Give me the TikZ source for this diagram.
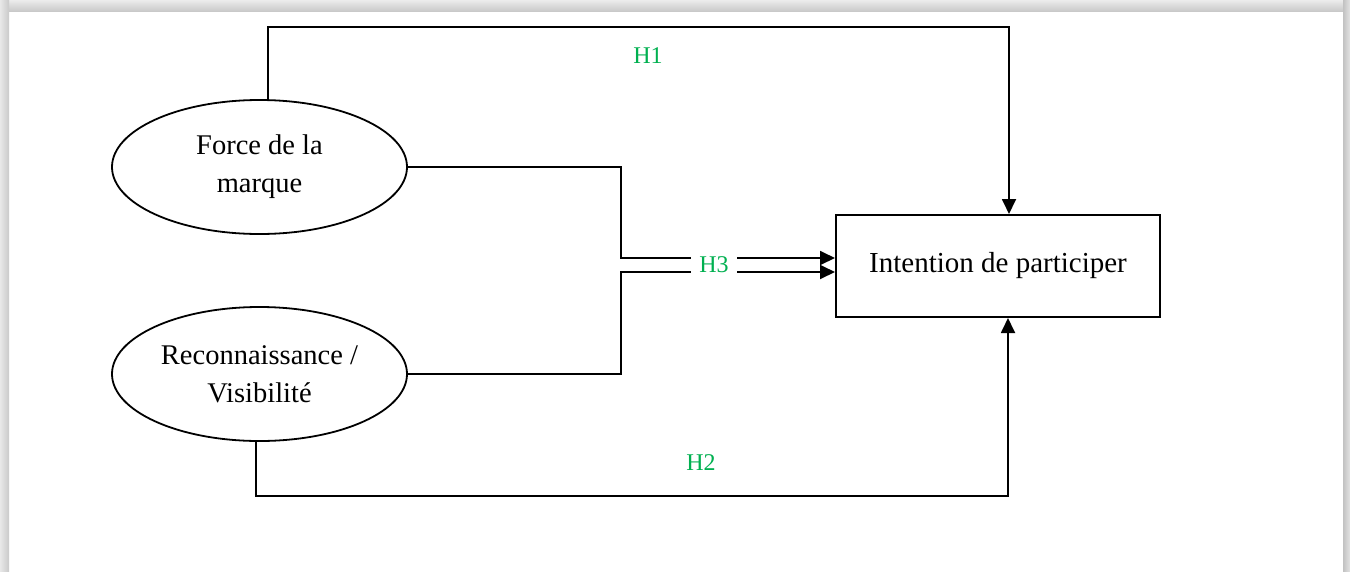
\documentclass[tikz,border=0pt]{standalone}
\usepackage{fontspec}
\setmainfont{Liberation Serif}
\usetikzlibrary{shapes.geometric,arrows.meta}
\definecolor{hgreen}{RGB}{0,176,80}
\begin{document}
\begin{tikzpicture}[x=1pt,y=-1pt,
  conn/.style={line width=1.8pt},
  arr/.style={conn,-{Triangle[length=15pt,width=14pt]}},
  oval/.style={ellipse,draw,line width=1.8pt,minimum width=295pt,minimum height=134pt,inner sep=0pt,align=center,font=\fontsize{28.5}{38}\selectfont},
  boxnode/.style={draw,line width=2pt,minimum width=324pt,minimum height=102pt,inner sep=0pt,font=\fontsize{29}{36}\selectfont},
  hlab/.style={text=hgreen,font=\fontsize{24}{28}\selectfont,inner sep=0pt}]
\useasboundingbox (0,0) rectangle (1350,571);
\fill[white] (0,0) rectangle (1350,571);
\shade[top color=gray!15,bottom color=gray!42] (0,0) rectangle (1350,11);
\shade[left color=gray!18,right color=gray!42] (0,0) rectangle (9,571);
\shade[left color=gray!48,right color=gray!22] (1343,0) rectangle (1350,571);

\node[oval] (force) at (259.5,167) {Force de la\\marque};
\node[oval] (reco) at (259.5,374) {Reconnaissance /\\Visibilité};
\node[boxnode] (intent) at (998,266) {Intention de participer};
\coordinate (j) at (621,266);

% H1
\draw[arr] ([xshift=8.5pt]force.north) -- ++(0,-72) -| ([xshift=11pt]intent.north);
% H2
\draw[arr] ([xshift=-3.5pt]reco.south) -- ++(0,54) -| ([xshift=10pt]intent.south);
% H3
\draw[arr] (force.east) -| ([yshift=8pt]intent.west -| j) -- ([yshift=8pt]intent.west);
\draw[arr] (reco.east) -| ([yshift=-6pt]intent.west -| j) -- ([yshift=-6pt]intent.west);

\node[hlab,fill=white,minimum width=46pt,minimum height=20pt] (h3) at (714,265) {H3};
\node[hlab] (h1) at (648,56) {H1};
\node[hlab] (h2) at (701,463) {H2};
\end{tikzpicture}
\end{document}
